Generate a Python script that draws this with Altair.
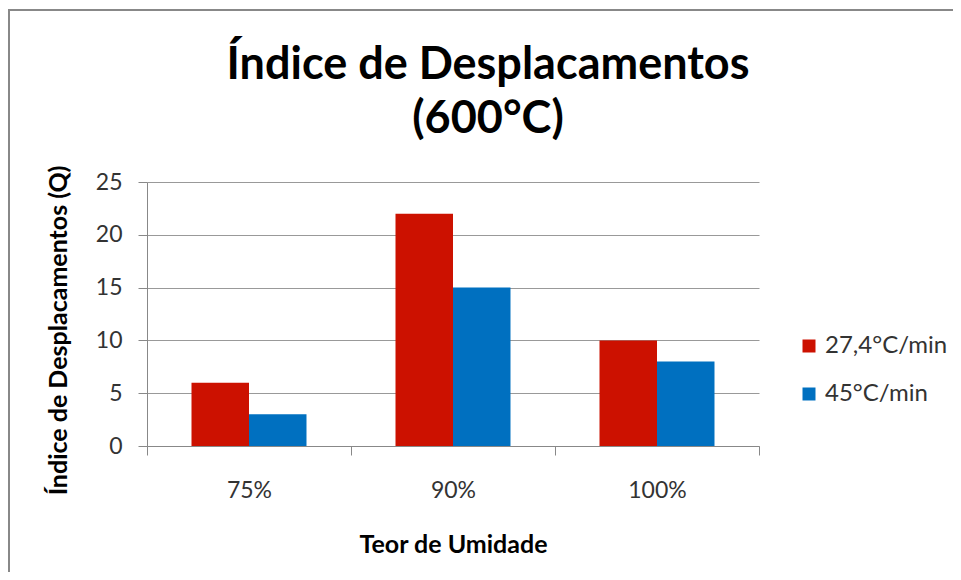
import altair as alt
import pandas as pd

categories = ["75%", "90%", "100%"]
series_names = ["27,4°C/min", "45°C/min"]
rate_27 = [6, 22, 10]
rate_45 = [3, 15, 8]
colors = ["#CC1100", "#0070C0"]

rows = []
for c, a, b in zip(categories, rate_27, rate_45):
    rows.append({"Teor": c, "Serie": series_names[0], "Q": a})
    rows.append({"Teor": c, "Serie": series_names[1], "Q": b})
df = pd.DataFrame(rows)

FONT = "Lato"

bars = alt.Chart(df).mark_bar().encode(
    x=alt.X("Teor:N", sort=categories,
            scale=alt.Scale(paddingInner=0, paddingOuter=0),
            axis=alt.Axis(title="Teor de Umidade", labelAngle=0, labelFontSize=23,
                          labelColor="#333333", labelPadding=24, titleFontSize=25,
                          titleFontWeight="bold", titlePadding=30, titleColor="#000000",
                          tickBand="extent", tickSize=9, tickColor="#888888",
                          domainColor="#888888", grid=False, labelFont=FONT, titleFont=FONT)),
    xOffset=alt.XOffset("Serie:N", sort=series_names,
                        scale=alt.Scale(paddingInner=0, paddingOuter=0.774)),
    y=alt.Y("Q:Q", scale=alt.Scale(domain=[0, 25]),
            axis=alt.Axis(title="Índice de Desplacamentos (Q)", values=[0, 5, 10, 15, 20, 25],
                          labelFontSize=23, labelColor="#333333", labelPadding=16,
                          titleFontSize=25, titleFontWeight="bold",
                          titleX=-76, titleY=148,
                          titleColor="#000000", tickSize=9, tickColor="#888888",
                          domainColor="#888888", gridColor="#999999", gridWidth=1.2,
                          labelFont=FONT, titleFont=FONT)),
    color=alt.Color("Serie:N", sort=series_names,
                    scale=alt.Scale(domain=series_names, range=colors),
                    legend=alt.Legend(title=None, orient="none", legendX=650, legendY=152,
                                      symbolType="square", symbolSize=169,
                                      symbolStrokeWidth=0, labelFontSize=24,
                                      labelColor="#333333", rowPadding=24,
                                      labelFont=FONT, labelOffset=4)),
)

frame = alt.Chart(pd.DataFrame({"k": [0]})).mark_rect(
    fill="transparent", stroke="#888888", strokeWidth=2
).encode(x=alt.value(-138), x2=alt.value(900), y=alt.value(-172), y2=alt.value(600))

chart = alt.layer(bars, frame).properties(
    width=612, height=264,
    padding={"left": 139, "top": 174, "right": 194, "bottom": 126},
    autosize=alt.AutoSizeParams(type="none"),
    title=alt.TitleParams(text=["Índice de Desplacamentos", "(600°C)"], fontSize=45,
                          font=FONT, fontWeight="bold", color="#000000",
                          anchor="middle", frame="group", dx=35, lineHeight=54,
                          offset=-133),
).configure_view(stroke=None)

chart.save("out.html", embed_options={"renderer": "svg", "actions": False})
